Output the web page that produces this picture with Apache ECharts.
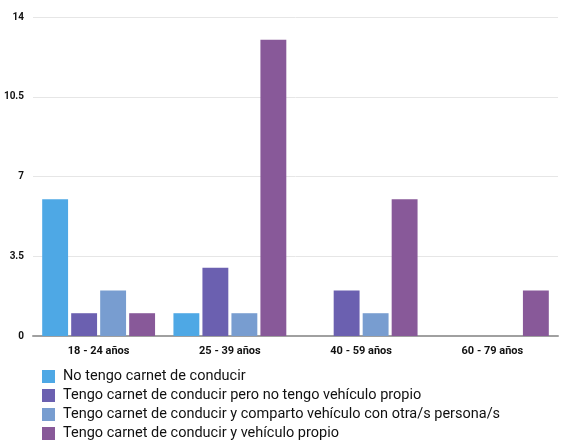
<!DOCTYPE html>
<html>
<head>
<meta charset="utf-8">
<script src="https://cdn.jsdelivr.net/npm/echarts@6/dist/echarts.min.js"></script>
<style>
  html, body { margin: 0; padding: 0; background: #fff; }
  #chart { width: 568px; height: 441px; }
</style>
</head>
<body>
<div id="chart"></div>
<script>
const categories = ["18 - 24 años", "25 - 39 años", "40 - 59 años", "60 - 79 años"];
const seriesNames = [
  "No tengo carnet de conducir",
  "Tengo carnet de conducir pero no tengo vehículo propio",
  "Tengo carnet de conducir y comparto vehículo con otra/s persona/s",
  "Tengo carnet de conducir y vehículo propio"
];
const noCarnet = [6, 1, 0, 0];
const carnetSinVehiculo = [1, 3, 2, 0];
const carnetCompartido = [2, 1, 1, 0];
const carnetVehiculo = [1, 13, 6, 2];
const yTicks = [0, 3.5, 7, 10.5, 14];

const colors = ["#4ea8e5", "#6b60b0", "#789dd0", "#885999"];
const values = [noCarnet, carnetSinVehiculo, carnetCompartido, carnetVehiculo];

const chart = echarts.init(document.getElementById("chart"));
chart.setOption({
  animation: false,
  grid: { left: 33, right: 10, top: 17, bottom: 105 },
  legend: {
    orient: "vertical",
    left: 42,
    top: 369,
    height: 120,
    padding: 0,
    itemWidth: 13,
    itemHeight: 13,
    itemGap: 4,
    icon: "rect",
    textStyle: { fontFamily: "Roboto", fontSize: 14.5, lineHeight: 14, color: "#111", padding: [0, 0, 0, 3] },
    data: seriesNames
  },
  xAxis: {
    type: "category",
    data: categories,
    axisTick: { show: false },
    axisLine: { lineStyle: { color: "#a0a0a0", width: 2 } },
    axisLabel: { fontFamily: "Roboto", fontWeight: "bold", fontSize: 11, color: "#111", margin: 10 }
  },
  yAxis: {
    type: "value",
    min: yTicks[0],
    max: yTicks[yTicks.length - 1],
    interval: 3.5,
    axisLine: { show: false },
    axisTick: { show: false },
    splitLine: { lineStyle: { color: "#e6e6e6" } },
    axisLabel: { fontFamily: "Roboto", fontWeight: "bold", fontSize: 10, color: "#111", margin: 9 }
  },
  series: seriesNames.map((name, i) => ({
    name: name,
    type: "bar",
    data: values[i],
    barGap: "12%",
    barCategoryGap: "14%",
    itemStyle: { color: colors[i] }
  }))
});
</script>
</body>
</html>
